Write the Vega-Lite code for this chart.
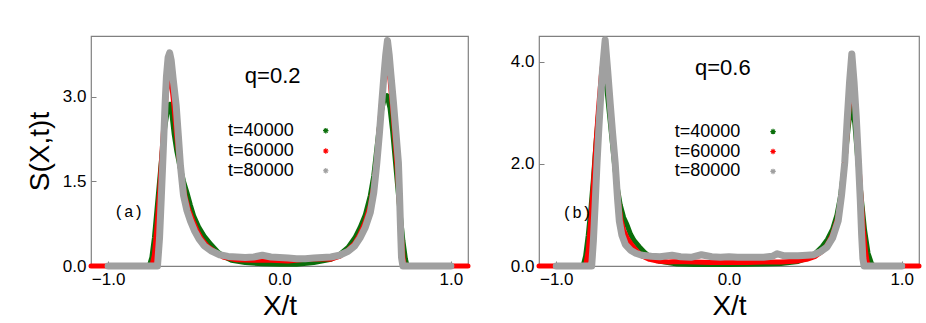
{
"$schema": "https://vega.github.io/schema/vega-lite/v6.json",
"background": "white",
"padding": {"left": 25, "top": 35, "right": 5, "bottom": 5},
"spacing": 37,
"config": {
 "view": {"stroke": "#808080", "strokeWidth": 1.2},
 "font": "Liberation Sans",
 "line": {"strokeJoin": "round", "strokeCap": "round", "clip": false},
 "axis": {"grid": false, "domain": false, "tickColor": "#808080", "tickSize": -5, "labelPadding": 10, "labelFontSize": 17, "labelColor": "black", "labelFont": "Liberation Sans", "titleFont": "Liberation Sans", "titleFontWeight": "normal", "titleFontSize": 28, "titleColor": "black"}
},
"datasets": {
 "a": [
  {"t":40000,"x":-1.0,"y":0},{"t":40000,"x":-0.76,"y":0},{"t":40000,"x":-0.745,"y":0.15},{"t":40000,"x":-0.73,"y":0.5},{"t":40000,"x":-0.715,"y":1.0},{"t":40000,"x":-0.70,"y":1.5},{"t":40000,"x":-0.685,"y":2.0},{"t":40000,"x":-0.67,"y":2.45},{"t":40000,"x":-0.655,"y":2.75},{"t":40000,"x":-0.64,"y":2.87},{"t":40000,"x":-0.628,"y":2.7},{"t":40000,"x":-0.615,"y":2.35},{"t":40000,"x":-0.60,"y":2.05},{"t":40000,"x":-0.58,"y":1.75},{"t":40000,"x":-0.56,"y":1.5},{"t":40000,"x":-0.54,"y":1.3},{"t":40000,"x":-0.52,"y":1.08},{"t":40000,"x":-0.50,"y":0.88},{"t":40000,"x":-0.47,"y":0.68},{"t":40000,"x":-0.44,"y":0.53},{"t":40000,"x":-0.40,"y":0.38},{"t":40000,"x":-0.36,"y":0.25},{"t":40000,"x":-0.32,"y":0.16},{"t":40000,"x":-0.28,"y":0.1},{"t":40000,"x":-0.2,"y":0.06},{"t":40000,"x":-0.1,"y":0.04},{"t":40000,"x":0,"y":0.03},{"t":40000,"x":0.1,"y":0.03},{"t":40000,"x":0.2,"y":0.06},{"t":40000,"x":0.30,"y":0.12},{"t":40000,"x":0.35,"y":0.2},{"t":40000,"x":0.40,"y":0.33},{"t":40000,"x":0.44,"y":0.5},{"t":40000,"x":0.47,"y":0.68},{"t":40000,"x":0.50,"y":0.9},{"t":40000,"x":0.53,"y":1.25},{"t":40000,"x":0.55,"y":1.6},{"t":40000,"x":0.565,"y":2.0},{"t":40000,"x":0.58,"y":2.4},{"t":40000,"x":0.595,"y":2.75},{"t":40000,"x":0.61,"y":2.95},{"t":40000,"x":0.628,"y":3.02},{"t":40000,"x":0.645,"y":2.8},{"t":40000,"x":0.66,"y":2.4},{"t":40000,"x":0.675,"y":1.9},{"t":40000,"x":0.69,"y":1.4},{"t":40000,"x":0.705,"y":0.9},{"t":40000,"x":0.72,"y":0.45},{"t":40000,"x":0.735,"y":0.12},{"t":40000,"x":0.745,"y":0},{"t":40000,"x":1.0,"y":0},
  {"t":60000,"x":-1.1,"y":0},{"t":60000,"x":-0.745,"y":0},{"t":60000,"x":-0.73,"y":0.2},{"t":60000,"x":-0.715,"y":0.7},{"t":60000,"x":-0.70,"y":1.3},{"t":60000,"x":-0.688,"y":1.9},{"t":60000,"x":-0.675,"y":2.5},{"t":60000,"x":-0.662,"y":3.0},{"t":60000,"x":-0.65,"y":3.3},{"t":60000,"x":-0.64,"y":3.4},{"t":60000,"x":-0.628,"y":3.2},{"t":60000,"x":-0.615,"y":2.8},{"t":60000,"x":-0.60,"y":2.3},{"t":60000,"x":-0.585,"y":1.9},{"t":60000,"x":-0.57,"y":1.55},{"t":60000,"x":-0.55,"y":1.22},{"t":60000,"x":-0.53,"y":1.0},{"t":60000,"x":-0.505,"y":0.8},{"t":60000,"x":-0.48,"y":0.62},{"t":60000,"x":-0.455,"y":0.48},{"t":60000,"x":-0.42,"y":0.35},{"t":60000,"x":-0.38,"y":0.26},{"t":60000,"x":-0.33,"y":0.16},{"t":60000,"x":-0.25,"y":0.11},{"t":60000,"x":-0.15,"y":0.1},{"t":60000,"x":-0.05,"y":0.1},{"t":60000,"x":0.05,"y":0.09},{"t":60000,"x":0.15,"y":0.12},{"t":60000,"x":0.25,"y":0.13},{"t":60000,"x":0.30,"y":0.12},{"t":60000,"x":0.35,"y":0.17},{"t":60000,"x":0.40,"y":0.28},{"t":60000,"x":0.44,"y":0.41},{"t":60000,"x":0.47,"y":0.57},{"t":60000,"x":0.50,"y":0.78},{"t":60000,"x":0.53,"y":1.08},{"t":60000,"x":0.55,"y":1.42},{"t":60000,"x":0.568,"y":1.9},{"t":60000,"x":0.583,"y":2.45},{"t":60000,"x":0.597,"y":2.95},{"t":60000,"x":0.61,"y":3.35},{"t":60000,"x":0.622,"y":3.58},{"t":60000,"x":0.632,"y":3.6},{"t":60000,"x":0.645,"y":3.3},{"t":60000,"x":0.66,"y":2.8},{"t":60000,"x":0.675,"y":2.2},{"t":60000,"x":0.69,"y":1.6},{"t":60000,"x":0.70,"y":1.1},{"t":60000,"x":0.712,"y":0.5},{"t":60000,"x":0.722,"y":0.12},{"t":60000,"x":0.73,"y":0},{"t":60000,"x":1.1,"y":0},
  {"t":80000,"x":-1.0,"y":0},{"t":80000,"x":-0.712,"y":0},{"t":80000,"x":-0.70,"y":0.5},{"t":80000,"x":-0.69,"y":1.2},{"t":80000,"x":-0.682,"y":1.78},{"t":80000,"x":-0.675,"y":2.3},{"t":80000,"x":-0.668,"y":2.85},{"t":80000,"x":-0.66,"y":3.35},{"t":80000,"x":-0.65,"y":3.7},{"t":80000,"x":-0.641,"y":3.78},{"t":80000,"x":-0.632,"y":3.65},{"t":80000,"x":-0.62,"y":3.3},{"t":80000,"x":-0.603,"y":2.85},{"t":80000,"x":-0.59,"y":2.3},{"t":80000,"x":-0.578,"y":1.78},{"t":80000,"x":-0.56,"y":1.25},{"t":80000,"x":-0.54,"y":0.98},{"t":80000,"x":-0.52,"y":0.8},{"t":80000,"x":-0.495,"y":0.62},{"t":80000,"x":-0.47,"y":0.48},{"t":80000,"x":-0.44,"y":0.36},{"t":80000,"x":-0.40,"y":0.27},{"t":80000,"x":-0.35,"y":0.2},{"t":80000,"x":-0.30,"y":0.17},{"t":80000,"x":-0.25,"y":0.16},{"t":80000,"x":-0.20,"y":0.15},{"t":80000,"x":-0.15,"y":0.16},{"t":80000,"x":-0.10,"y":0.19},{"t":80000,"x":-0.05,"y":0.16},{"t":80000,"x":0.0,"y":0.15},{"t":80000,"x":0.05,"y":0.14},{"t":80000,"x":0.10,"y":0.13},{"t":80000,"x":0.15,"y":0.13},{"t":80000,"x":0.20,"y":0.14},{"t":80000,"x":0.25,"y":0.15},{"t":80000,"x":0.30,"y":0.16},{"t":80000,"x":0.35,"y":0.19},{"t":80000,"x":0.40,"y":0.26},{"t":80000,"x":0.44,"y":0.36},{"t":80000,"x":0.47,"y":0.5},{"t":80000,"x":0.50,"y":0.68},{"t":80000,"x":0.53,"y":0.95},{"t":80000,"x":0.55,"y":1.3},{"t":80000,"x":0.568,"y":1.83},{"t":80000,"x":0.583,"y":2.35},{"t":80000,"x":0.597,"y":2.9},{"t":80000,"x":0.61,"y":3.4},{"t":80000,"x":0.62,"y":3.75},{"t":80000,"x":0.63,"y":4.0},{"t":80000,"x":0.64,"y":3.75},{"t":80000,"x":0.65,"y":3.4},{"t":80000,"x":0.665,"y":2.9},{"t":80000,"x":0.68,"y":2.35},{"t":80000,"x":0.694,"y":1.83},{"t":80000,"x":0.70,"y":1.3},{"t":80000,"x":0.707,"y":0.6},{"t":80000,"x":0.712,"y":0.15},{"t":80000,"x":0.72,"y":0},{"t":80000,"x":1.0,"y":0}
 ],
 "b": [
  {"t":40000,"x":-1.0,"y":0},{"t":40000,"x":-0.845,"y":0},{"t":40000,"x":-0.83,"y":0.2},{"t":40000,"x":-0.815,"y":0.6},{"t":40000,"x":-0.80,"y":1.1},{"t":40000,"x":-0.785,"y":1.7},{"t":40000,"x":-0.77,"y":2.4},{"t":40000,"x":-0.755,"y":3.0},{"t":40000,"x":-0.74,"y":3.45},{"t":40000,"x":-0.728,"y":3.65},{"t":40000,"x":-0.717,"y":3.7},{"t":40000,"x":-0.705,"y":3.4},{"t":40000,"x":-0.69,"y":2.9},{"t":40000,"x":-0.675,"y":2.4},{"t":40000,"x":-0.66,"y":1.9},{"t":40000,"x":-0.645,"y":1.5},{"t":40000,"x":-0.63,"y":1.2},{"t":40000,"x":-0.61,"y":0.95},{"t":40000,"x":-0.59,"y":0.8},{"t":40000,"x":-0.57,"y":0.62},{"t":40000,"x":-0.55,"y":0.5},{"t":40000,"x":-0.52,"y":0.38},{"t":40000,"x":-0.49,"y":0.27},{"t":40000,"x":-0.45,"y":0.16},{"t":40000,"x":-0.40,"y":0.09},{"t":40000,"x":-0.30,"y":0.04},{"t":40000,"x":-0.2,"y":0.03},{"t":40000,"x":0,"y":0.03},{"t":40000,"x":0.2,"y":0.04},{"t":40000,"x":0.30,"y":0.05},{"t":40000,"x":0.40,"y":0.09},{"t":40000,"x":0.45,"y":0.15},{"t":40000,"x":0.50,"y":0.25},{"t":40000,"x":0.54,"y":0.38},{"t":40000,"x":0.57,"y":0.52},{"t":40000,"x":0.60,"y":0.72},{"t":40000,"x":0.625,"y":1.0},{"t":40000,"x":0.645,"y":1.35},{"t":40000,"x":0.66,"y":1.75},{"t":40000,"x":0.675,"y":2.2},{"t":40000,"x":0.69,"y":2.7},{"t":40000,"x":0.703,"y":3.05},{"t":40000,"x":0.715,"y":3.12},{"t":40000,"x":0.728,"y":2.8},{"t":40000,"x":0.745,"y":2.1},{"t":40000,"x":0.765,"y":1.35},{"t":40000,"x":0.785,"y":0.7},{"t":40000,"x":0.805,"y":0.25},{"t":40000,"x":0.825,"y":0.05},{"t":40000,"x":0.84,"y":0},{"t":40000,"x":1.0,"y":0},
  {"t":60000,"x":-1.1,"y":0},{"t":60000,"x":-0.83,"y":0},{"t":60000,"x":-0.815,"y":0.3},{"t":60000,"x":-0.80,"y":0.9},{"t":60000,"x":-0.785,"y":1.6},{"t":60000,"x":-0.77,"y":2.4},{"t":60000,"x":-0.755,"y":3.1},{"t":60000,"x":-0.74,"y":3.7},{"t":60000,"x":-0.728,"y":4.05},{"t":60000,"x":-0.717,"y":4.16},{"t":60000,"x":-0.705,"y":3.9},{"t":60000,"x":-0.692,"y":3.4},{"t":60000,"x":-0.678,"y":2.8},{"t":60000,"x":-0.664,"y":2.2},{"t":60000,"x":-0.65,"y":1.6},{"t":60000,"x":-0.638,"y":1.2},{"t":60000,"x":-0.625,"y":0.9},{"t":60000,"x":-0.61,"y":0.7},{"t":60000,"x":-0.59,"y":0.55},{"t":60000,"x":-0.56,"y":0.4},{"t":60000,"x":-0.53,"y":0.28},{"t":60000,"x":-0.50,"y":0.19},{"t":60000,"x":-0.46,"y":0.13},{"t":60000,"x":-0.42,"y":0.1},{"t":60000,"x":-0.35,"y":0.08},{"t":60000,"x":-0.3,"y":0.09},{"t":60000,"x":-0.2,"y":0.08},{"t":60000,"x":-0.1,"y":0.07},{"t":60000,"x":0,"y":0.07},{"t":60000,"x":0.1,"y":0.07},{"t":60000,"x":0.2,"y":0.08},{"t":60000,"x":0.3,"y":0.08},{"t":60000,"x":0.40,"y":0.1},{"t":60000,"x":0.45,"y":0.13},{"t":60000,"x":0.50,"y":0.19},{"t":60000,"x":0.54,"y":0.29},{"t":60000,"x":0.57,"y":0.42},{"t":60000,"x":0.60,"y":0.62},{"t":60000,"x":0.628,"y":0.92},{"t":60000,"x":0.648,"y":1.3},{"t":60000,"x":0.665,"y":1.8},{"t":60000,"x":0.68,"y":2.4},{"t":60000,"x":0.693,"y":3.0},{"t":60000,"x":0.703,"y":3.5},{"t":60000,"x":0.713,"y":3.8},{"t":60000,"x":0.725,"y":3.45},{"t":60000,"x":0.738,"y":2.8},{"t":60000,"x":0.752,"y":2.0},{"t":60000,"x":0.765,"y":1.3},{"t":60000,"x":0.778,"y":0.7},{"t":60000,"x":0.79,"y":0.3},{"t":60000,"x":0.80,"y":0.08},{"t":60000,"x":0.81,"y":0},{"t":60000,"x":1.1,"y":0},
  {"t":80000,"x":-1.0,"y":0},{"t":80000,"x":-0.795,"y":0},{"t":80000,"x":-0.785,"y":0.5},{"t":80000,"x":-0.775,"y":1.2},{"t":80000,"x":-0.764,"y":2.02},{"t":80000,"x":-0.755,"y":2.6},{"t":80000,"x":-0.745,"y":3.19},{"t":80000,"x":-0.732,"y":3.85},{"t":80000,"x":-0.717,"y":4.42},{"t":80000,"x":-0.703,"y":3.85},{"t":80000,"x":-0.688,"y":3.19},{"t":80000,"x":-0.674,"y":2.6},{"t":80000,"x":-0.659,"y":2.02},{"t":80000,"x":-0.645,"y":1.3},{"t":80000,"x":-0.635,"y":0.88},{"t":80000,"x":-0.62,"y":0.6},{"t":80000,"x":-0.60,"y":0.42},{"t":80000,"x":-0.57,"y":0.31},{"t":80000,"x":-0.54,"y":0.25},{"t":80000,"x":-0.505,"y":0.21},{"t":80000,"x":-0.45,"y":0.19},{"t":80000,"x":-0.40,"y":0.18},{"t":80000,"x":-0.33,"y":0.21},{"t":80000,"x":-0.28,"y":0.18},{"t":80000,"x":-0.22,"y":0.17},{"t":80000,"x":-0.16,"y":0.22},{"t":80000,"x":-0.10,"y":0.18},{"t":80000,"x":-0.05,"y":0.17},{"t":80000,"x":0,"y":0.18},{"t":80000,"x":0.05,"y":0.17},{"t":80000,"x":0.10,"y":0.17},{"t":80000,"x":0.15,"y":0.17},{"t":80000,"x":0.2,"y":0.17},{"t":80000,"x":0.25,"y":0.19},{"t":80000,"x":0.28,"y":0.24},{"t":80000,"x":0.32,"y":0.2},{"t":80000,"x":0.40,"y":0.2},{"t":80000,"x":0.45,"y":0.21},{"t":80000,"x":0.49,"y":0.22},{"t":80000,"x":0.53,"y":0.28},{"t":80000,"x":0.567,"y":0.37},{"t":80000,"x":0.60,"y":0.55},{"t":80000,"x":0.632,"y":0.88},{"t":80000,"x":0.652,"y":1.4},{"t":80000,"x":0.67,"y":2.02},{"t":80000,"x":0.685,"y":2.9},{"t":80000,"x":0.698,"y":3.6},{"t":80000,"x":0.711,"y":4.15},{"t":80000,"x":0.724,"y":3.6},{"t":80000,"x":0.737,"y":2.9},{"t":80000,"x":0.75,"y":2.02},{"t":80000,"x":0.76,"y":1.3},{"t":80000,"x":0.768,"y":0.6},{"t":80000,"x":0.775,"y":0.15},{"t":80000,"x":0.782,"y":0},{"t":80000,"x":1.0,"y":0}
 ],
 "legA": [
  {"label":"t=40000","t":40000,"x":-0.30,"sx":0.27,"y":2.40},
  {"label":"t=60000","t":60000,"x":-0.30,"sx":0.27,"y":2.04},
  {"label":"t=80000","t":80000,"x":-0.30,"sx":0.27,"y":1.69}
 ],
 "legB": [
  {"label":"t=40000","t":40000,"x":-0.314,"sx":0.255,"y":2.63},
  {"label":"t=60000","t":60000,"x":-0.314,"sx":0.255,"y":2.24},
  {"label":"t=80000","t":80000,"x":-0.314,"sx":0.255,"y":1.85}
 ],
 "annA": [
  {"label":"q=0.2","x":-0.04,"y":3.37,"kind":"q"},
  {"label":"(a)","x":-0.88,"y":0.95,"kind":"p"}
 ],
 "annB": [
  {"label":"q=0.6","x":-0.036,"y":3.87,"kind":"q"},
  {"label":"(b)","x":-0.88,"y":1.04,"kind":"p"}
 ]
},
"hconcat": [
 {
  "width": 377, "height": 230,
  "layer": [
   {"data": {"name": "a"}, "transform": [{"filter": "datum.t == 40000"}],
    "mark": {"type": "line", "color": "#0a6e0a", "strokeWidth": 5},
    "encoding": {
     "x": {"field": "x", "type": "quantitative", "scale": {"domain": [-1.1, 1.1], "nice": false, "zero": false}, "axis": {"values": [-1, 0, 1], "format": ".1f", "title": "X/t", "titlePadding": 5}},
     "y": {"field": "y", "type": "quantitative", "scale": {"domain": [0, 4.08], "nice": false}, "axis": {"values": [0, 1.5, 3], "format": ".1f", "title": "S(X,t)t", "titlePadding": 8}}
    }},
   {"data": {"name": "a"}, "transform": [{"filter": "datum.t == 60000"}],
    "mark": {"type": "line", "color": "#ff0000", "strokeWidth": 5},
    "encoding": {"x": {"field": "x", "type": "quantitative"}, "y": {"field": "y", "type": "quantitative"}}},
   {"data": {"name": "a"}, "transform": [{"filter": "datum.t == 80000"}],
    "mark": {"type": "line", "color": "#a0a0a0", "strokeWidth": 7},
    "encoding": {"x": {"field": "x", "type": "quantitative"}, "y": {"field": "y", "type": "quantitative"}}},
   {"data": {"name": "legA"},
    "mark": {"type": "text", "align": "left", "baseline": "middle", "fontSize": 18, "font": "Liberation Sans"},
    "encoding": {"x": {"field": "x", "type": "quantitative"}, "y": {"field": "y", "type": "quantitative"}, "text": {"field": "label"}}},
   {"data": {"name": "legA"},
    "mark": {"type": "point", "shape": "M-1,0L1,0M0,-1L0,1M-0.7,-0.7L0.7,0.7M-0.7,0.7L0.7,-0.7", "filled": false, "size": 30, "strokeWidth": 1.2, "opacity": 1},
    "encoding": {"x": {"field": "sx", "type": "quantitative"}, "y": {"field": "y", "type": "quantitative"},
     "color": {"field": "t", "type": "nominal", "scale": {"domain": [40000, 60000, 80000], "range": ["#0a6e0a", "#ff0000", "#a0a0a0"]}, "legend": null}}},
   {"data": {"name": "annA"}, "transform": [{"filter": "datum.kind == 'q'"}],
    "mark": {"type": "text", "align": "center", "baseline": "middle", "fontSize": 22, "font": "Liberation Sans"},
    "encoding": {"x": {"field": "x", "type": "quantitative"}, "y": {"field": "y", "type": "quantitative"}, "text": {"field": "label"}}},
   {"data": {"name": "annA"}, "transform": [{"filter": "datum.kind == 'p'"}],
    "mark": {"type": "text", "align": "center", "baseline": "middle", "fontSize": 16, "font": "Liberation Mono"},
    "encoding": {"x": {"field": "x", "type": "quantitative"}, "y": {"field": "y", "type": "quantitative"}, "text": {"field": "label"}}}
  ]
 },
 {
  "width": 380, "height": 230,
  "layer": [
   {"data": {"name": "b"}, "transform": [{"filter": "datum.t == 40000"}],
    "mark": {"type": "line", "color": "#0a6e0a", "strokeWidth": 5},
    "encoding": {
     "x": {"field": "x", "type": "quantitative", "scale": {"domain": [-1.1, 1.1], "nice": false, "zero": false}, "axis": {"values": [-1, 0, 1], "format": ".1f", "title": "X/t", "titlePadding": 5}},
     "y": {"field": "y", "type": "quantitative", "scale": {"domain": [0, 4.5], "nice": false}, "axis": {"values": [0, 2, 4], "format": ".1f", "title": null}}
    }},
   {"data": {"name": "b"}, "transform": [{"filter": "datum.t == 60000"}],
    "mark": {"type": "line", "color": "#ff0000", "strokeWidth": 5},
    "encoding": {"x": {"field": "x", "type": "quantitative"}, "y": {"field": "y", "type": "quantitative"}}},
   {"data": {"name": "b"}, "transform": [{"filter": "datum.t == 80000"}],
    "mark": {"type": "line", "color": "#a0a0a0", "strokeWidth": 7},
    "encoding": {"x": {"field": "x", "type": "quantitative"}, "y": {"field": "y", "type": "quantitative"}}},
   {"data": {"name": "legB"},
    "mark": {"type": "text", "align": "left", "baseline": "middle", "fontSize": 18, "font": "Liberation Sans"},
    "encoding": {"x": {"field": "x", "type": "quantitative"}, "y": {"field": "y", "type": "quantitative"}, "text": {"field": "label"}}},
   {"data": {"name": "legB"},
    "mark": {"type": "point", "shape": "M-1,0L1,0M0,-1L0,1M-0.7,-0.7L0.7,0.7M-0.7,0.7L0.7,-0.7", "filled": false, "size": 30, "strokeWidth": 1.2, "opacity": 1},
    "encoding": {"x": {"field": "sx", "type": "quantitative"}, "y": {"field": "y", "type": "quantitative"},
     "color": {"field": "t", "type": "nominal", "scale": {"domain": [40000, 60000, 80000], "range": ["#0a6e0a", "#ff0000", "#a0a0a0"]}, "legend": null}}},
   {"data": {"name": "annB"}, "transform": [{"filter": "datum.kind == 'q'"}],
    "mark": {"type": "text", "align": "center", "baseline": "middle", "fontSize": 22, "font": "Liberation Sans"},
    "encoding": {"x": {"field": "x", "type": "quantitative"}, "y": {"field": "y", "type": "quantitative"}, "text": {"field": "label"}}},
   {"data": {"name": "annB"}, "transform": [{"filter": "datum.kind == 'p'"}],
    "mark": {"type": "text", "align": "center", "baseline": "middle", "fontSize": 16, "font": "Liberation Mono"},
    "encoding": {"x": {"field": "x", "type": "quantitative"}, "y": {"field": "y", "type": "quantitative"}, "text": {"field": "label"}}}
  ]
 }
]
}
